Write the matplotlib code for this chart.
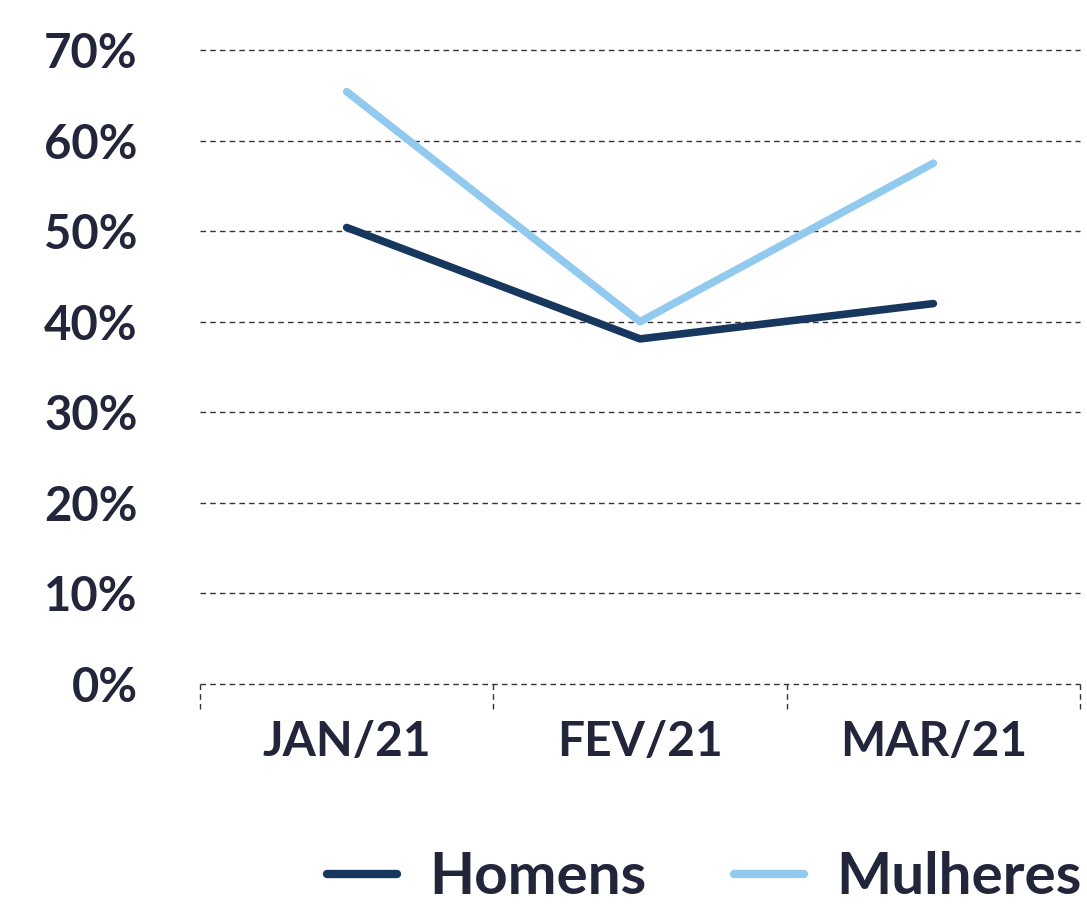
import matplotlib.pyplot as plt
from matplotlib.transforms import blended_transform_factory

MONTHS = ['JAN/21', 'FEV/21', 'MAR/21']
HOMENS = [50.4, 38.1, 42.0]
MULHERES = [65.4, 40.0, 57.5]
Y_TICKS = [0, 10, 20, 30, 40, 50, 60, 70]

TEXT = '#23263b'
plt.rcParams['font.family'] = ['Lato', 'DejaVu Sans']
plt.rcParams['font.weight'] = 'bold'

fig = plt.figure(figsize=(10.87, 9.05), dpi=100)
ax = fig.add_axes([0.184, 0.2442, 0.8096, 0.7006])

x = list(range(len(MONTHS)))
ax.plot(x, HOMENS, color='#17375e', linewidth=5.5, solid_capstyle='round',
        solid_joinstyle='round', label='Homens', zorder=3)
ax.plot(x, MULHERES, color='#92c9ee', linewidth=5.5, solid_capstyle='round',
        solid_joinstyle='round', label='Mulheres', zorder=3)

ax.set_xlim(-0.5, len(MONTHS) - 0.5)
ax.set_ylim(0, 70)
ax.set_yticks(Y_TICKS)
ax.set_yticklabels([f'{v}%' for v in Y_TICKS])
ax.set_xticks(x)
ax.set_xticklabels(MONTHS)
ax.tick_params(axis='both', length=0, labelcolor=TEXT)
ax.tick_params(axis='y', pad=45, labelsize=34)
ax.tick_params(axis='x', pad=26, labelsize=34.5)

for v in Y_TICKS:
    ax.axhline(v, color='#333333', linewidth=1.0, linestyle=(0, (4, 3)), zorder=1,
               clip_on=False)

trans = blended_transform_factory(ax.transData, ax.transAxes)
for b in [i - 0.5 for i in range(len(MONTHS) + 1)]:
    ax.plot([b, b], [0, -0.04], transform=trans, color='#333333', linewidth=1.0,
            linestyle=(0, (4, 3)), clip_on=False)

for s in ax.spines.values():
    s.set_visible(False)

fig.legend(loc='center', bbox_to_anchor=(0.648, 0.03), ncol=2, frameon=False,
           fontsize=42, handlelength=1.2, handletextpad=0.55, columnspacing=1.5,
           labelcolor=TEXT)
for line in fig.legends[0].get_lines():
    line.set_linewidth(6)
    line.set_solid_capstyle('round')

fig.savefig('out.png', dpi=100)
